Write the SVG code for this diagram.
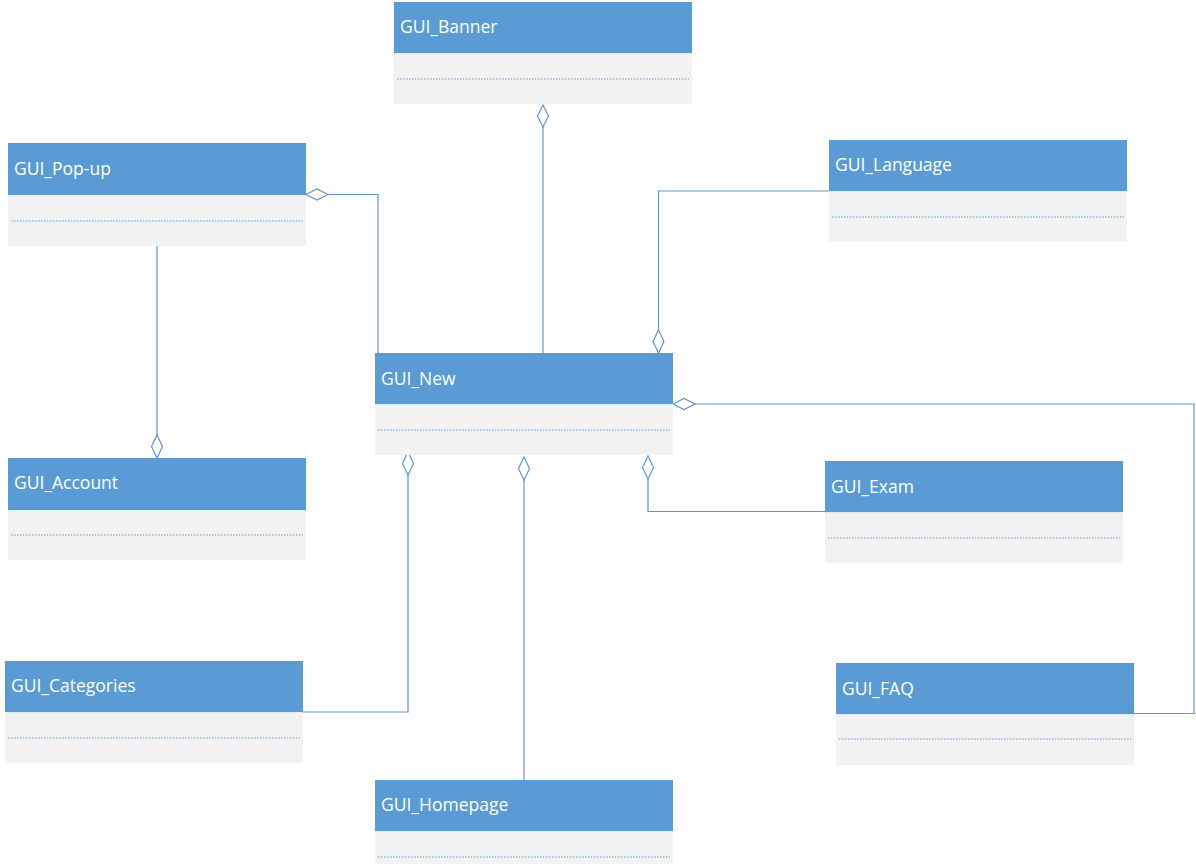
<svg xmlns="http://www.w3.org/2000/svg" width="1196" height="864" viewBox="0 0 1196 864">
  <style>
    .hdr { fill: #5B9BD5; }
    .body { fill: #F2F2F2; }
    .sep { stroke: #DDEBF7; stroke-width: 1; }
    .dots { stroke: #5B9BD5; stroke-width: 1; stroke-dasharray: 1.5 1.5; fill: none; }
    .name { font-family: "Open Sans", "Liberation Sans", sans-serif; font-size: 17.5px; fill: #FFFFFF; }
    .conn { stroke: #6495CC; stroke-width: 1.2; fill: none; }
    .dia { stroke: #6495CC; stroke-width: 1.2; fill: #FFFFFF; }
  </style>
  <rect width="1196" height="864" fill="#FFFFFF"/>

  <!-- connectors (aggregations, hollow diamonds at the whole end) -->
  <g id="connectors">
    <!-- Banner -> New -->
    <path class="conn" d="M543 127 V353"/>
    <path class="dia" d="M543 105 L548.5 116 L543 127 L537.5 116 Z"/>
    <!-- Pop-up -> New -->
    <path class="conn" d="M328 194.5 H378 V353"/>
    <path class="dia" d="M306 194.5 L317 189 L328 194.5 L317 200 Z"/>
    <!-- Pop-up -> Account -->
    <path class="conn" d="M157 246 V435"/>
    <path class="dia" d="M157 435 L162.5 446.5 L157 458 L151.5 446.5 Z"/>
    <!-- Language -> New -->
    <path class="conn" d="M829 191 H658.5 V330"/>
    <path class="dia" d="M658.5 330 L664 341.5 L658.5 353 L653 341.5 Z"/>
    <!-- New -> FAQ -->
    <path class="conn" d="M695 404 H1194 V713.5 H1134"/>
    <path class="dia" d="M673 404 L684 398.5 L695 404 L684 409.5 Z"/>
    <!-- New -> Exam -->
    <path class="conn" d="M648 479 V511.5 H825"/>
    <path class="dia" d="M648 456 L653.5 467.5 L648 479 L642.5 467.5 Z"/>
    <!-- New -> Categories -->
    <path class="conn" d="M408 475 V712 H303"/>
    <path class="dia" d="M408 452 L413.5 463.5 L408 475 L402.5 463.5 Z"/>
    <!-- New -> Homepage -->
    <path class="conn" d="M524 480 V780"/>
    <path class="dia" d="M524 457 L529.5 468.5 L524 480 L518.5 468.5 Z"/>
  </g>

  <g id="GUI_Banner">
    <rect class="body" x="394" y="53" width="298" height="51"/>
    <rect class="hdr" x="394" y="2" width="298" height="51"/>
    <line class="sep" x1="394" y1="53.5" x2="692" y2="53.5"/>
    <line class="dots" x1="397" y1="79" x2="689" y2="79"/>
    <text class="name" x="400" y="33">GUI_Banner</text>
  </g>

  <g id="GUI_Pop-up">
    <rect class="body" x="8" y="195" width="298" height="51"/>
    <rect class="hdr" x="8" y="143" width="298" height="52"/>
    <line class="sep" x1="8" y1="195.5" x2="306" y2="195.5"/>
    <line class="dots" x1="11" y1="221" x2="303" y2="221"/>
    <text class="name" x="14" y="175">GUI_Pop-up</text>
  </g>

  <g id="GUI_Language">
    <rect class="body" x="829" y="191" width="298" height="51"/>
    <rect class="hdr" x="829" y="140" width="298" height="51"/>
    <line class="sep" x1="829" y1="191.5" x2="1127" y2="191.5"/>
    <line class="dots" x1="832" y1="217" x2="1124" y2="217"/>
    <text class="name" x="835" y="171">GUI_Language</text>
  </g>

  <g id="GUI_New">
    <rect class="body" x="375" y="404" width="298" height="51"/>
    <rect class="hdr" x="375" y="353" width="298" height="51"/>
    <line class="sep" x1="375" y1="404.5" x2="673" y2="404.5"/>
    <line class="dots" x1="378" y1="430" x2="670" y2="430"/>
    <text class="name" x="381" y="385">GUI_New</text>
  </g>

  <g id="GUI_Account">
    <rect class="body" x="8" y="510" width="298" height="50"/>
    <rect class="hdr" x="8" y="458" width="298" height="52"/>
    <line class="sep" x1="8" y1="510.5" x2="306" y2="510.5"/>
    <line class="dots" x1="11" y1="535" x2="303" y2="535"/>
    <text class="name" x="14" y="489">GUI_Account</text>
  </g>

  <g id="GUI_Exam">
    <rect class="body" x="825" y="512" width="298" height="51"/>
    <rect class="hdr" x="825" y="461" width="298" height="51"/>
    <line class="sep" x1="825" y1="512.5" x2="1123" y2="512.5"/>
    <line class="dots" x1="828" y1="538" x2="1120" y2="538"/>
    <text class="name" x="831" y="493">GUI_Exam</text>
  </g>

  <g id="GUI_Categories">
    <rect class="body" x="5" y="712" width="298" height="51"/>
    <rect class="hdr" x="5" y="661" width="298" height="51"/>
    <line class="sep" x1="5" y1="712.5" x2="303" y2="712.5"/>
    <line class="dots" x1="8" y1="738" x2="300" y2="738"/>
    <text class="name" x="11" y="692">GUI_Categories</text>
  </g>

  <g id="GUI_FAQ">
    <rect class="body" x="836" y="714" width="298" height="51"/>
    <rect class="hdr" x="836" y="663" width="298" height="51"/>
    <line class="sep" x1="836" y1="714.5" x2="1134" y2="714.5"/>
    <line class="dots" x1="839" y1="739" x2="1131" y2="739"/>
    <text class="name" x="842" y="695">GUI_FAQ</text>
  </g>

  <g id="GUI_Homepage">
    <rect class="body" x="375" y="831" width="298" height="33"/>
    <rect class="hdr" x="375" y="780" width="298" height="51"/>
    <line class="sep" x1="375" y1="831.5" x2="673" y2="831.5"/>
    <line class="dots" x1="378" y1="857" x2="670" y2="857"/>
    <text class="name" x="381" y="811">GUI_Homepage</text>
  </g>
</svg>
